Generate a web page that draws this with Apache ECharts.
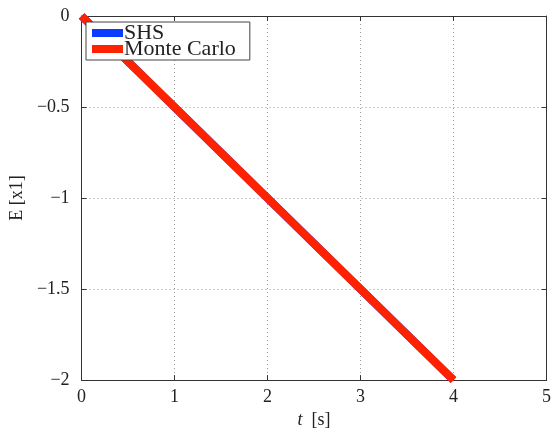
<!DOCTYPE html>
<html><head><meta charset="utf-8">
<script src="https://cdn.jsdelivr.net/npm/echarts@6/dist/echarts.min.js"></script>
<style>html,body{margin:0;padding:0;background:#fff}#c{width:554px;height:434px}</style>
</head><body><div id="c"></div>
<script>
const tValues = [0, 1, 2, 3, 4];
const shsValues = [0, -0.5, -1, -1.5, -2];
const mcValues = [0, -0.5, -1, -1.5, -2];
const seriesNames = ['SHS', 'Monte Carlo'];
const xTicks = [0, 1, 2, 3, 4, 5];
const yTicks = [-2, -1.5, -1, -0.5, 0];

const font = 'Liberation Serif';
const fmt = v => String(v).replace('-', '\u2212');
const chart = echarts.init(document.getElementById('c'));
const axisLineStyle = {color: '#333', width: 1};
const gridLine = {show: true, lineStyle: {color: '#999', type: [1, 3], width: 1}};
chart.setOption({
  animation: false,
  backgroundColor: '#fff',
  grid: {left: 81, right: 7, top: 16, bottom: 49, containLabel: false},
  legend: {
    left: 86, top: 22, orient: 'vertical',
    data: seriesNames,
    icon: 'rect', itemWidth: 31, itemHeight: 8, itemGap: -6,
    borderColor: '#444', borderWidth: 1, padding: [0, 14, 0, 6],
    backgroundColor: '#fff',
    textStyle: {fontFamily: font, fontSize: 22, color: '#222', lineHeight: 20, padding: [0, 0, 0, -4]}
  },
  xAxis: [{
    type: 'value', min: xTicks[0], max: xTicks[xTicks.length - 1], interval: 1,
    axisLine: {show: true, onZero: false, lineStyle: axisLineStyle},
    axisTick: {show: true, inside: true, length: 5, lineStyle: axisLineStyle},
    axisLabel: {fontFamily: font, fontSize: 18, color: '#222', margin: 8, formatter: fmt},
    splitLine: gridLine,
    name: '{i|t}  [s]', nameLocation: 'middle', nameGap: 27,
    nameTextStyle: {fontFamily: font, fontSize: 18, color: '#222', rich: {i: {fontFamily: font, fontSize: 18, fontStyle: 'italic', color: '#222'}}}
  }, {
    type: 'value', position: 'top', min: xTicks[0], max: xTicks[xTicks.length - 1], interval: 1,
    axisLine: {show: true, onZero: false, lineStyle: axisLineStyle},
    axisTick: {show: true, inside: true, length: 5, lineStyle: axisLineStyle},
    axisLabel: {show: false}, splitLine: {show: false}
  }],
  yAxis: [{
    type: 'value', min: yTicks[0], max: yTicks[yTicks.length - 1], interval: 0.5,
    axisLine: {show: true, onZero: false, lineStyle: axisLineStyle},
    axisTick: {show: true, inside: true, length: 5, lineStyle: axisLineStyle},
    axisLabel: {fontFamily: font, fontSize: 18, color: '#222', margin: 12, formatter: fmt},
    splitLine: gridLine,
    name: 'E [x1]', nameLocation: 'middle', nameGap: 46, nameRotate: 90,
    nameTextStyle: {fontFamily: font, fontSize: 18, color: '#222'}
  }, {
    type: 'value', position: 'right', min: yTicks[0], max: yTicks[yTicks.length - 1], interval: 0.5,
    axisLine: {show: true, onZero: false, lineStyle: axisLineStyle},
    axisTick: {show: true, inside: true, length: 5, lineStyle: axisLineStyle},
    axisLabel: {show: false}, splitLine: {show: false}
  }],
  series: [{
    name: seriesNames[0], type: 'line', showSymbol: false, symbol: 'none',
    data: tValues.map((t, i) => [t, shsValues[i]]),
    lineStyle: {color: '#0a3cff', width: 8}, itemStyle: {color: '#0a3cff'}, z: 2
  }, {
    name: seriesNames[1], type: 'line', showSymbol: false, symbol: 'none',
    data: tValues.map((t, i) => [t, mcValues[i]]),
    lineStyle: {color: '#ff2200', width: 8}, itemStyle: {color: '#ff2200'}, z: 3
  }]
});
</script></body></html>
